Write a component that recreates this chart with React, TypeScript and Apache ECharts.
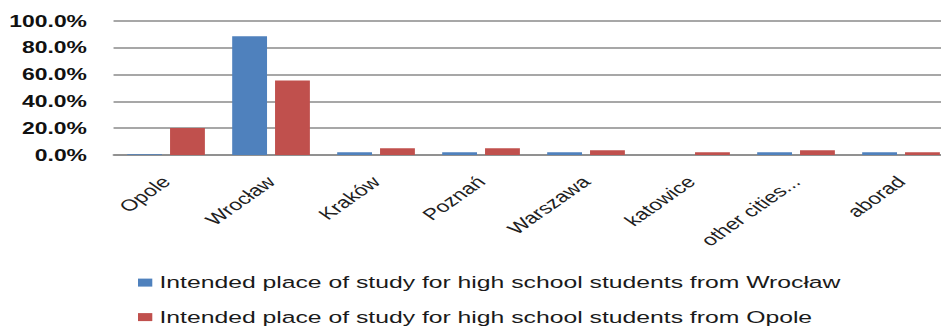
import React, { useEffect, useRef } from "react";
import * as echarts from "echarts";

// Intended place of study, share of respondents (%)
const categories = [
  "Opole",
  "Wrocław",
  "Kraków",
  "Poznań",
  "Warszawa",
  "katowice",
  "other cities...",
  "aborad",
];
const wroclawStudents = [0.5, 88.6, 2.0, 2.0, 2.0, 0, 2.0, 2.0];
const opoleStudents = [20.1, 55.6, 5.0, 5.0, 3.5, 2.0, 3.5, 2.0];
const seriesNames = [
  "Intended place of study for high school students from Wrocław",
  "Intended place of study for high school students from Opole",
];
const yTicks = { min: 0, max: 100, interval: 20 };

// The chart is laid out narrow and widened horizontally, which gives the
// wide lettering and shallow label slant of the original figure.
const STRETCH = 1.43;
const INNER_W = 672;
const H = 326;

export default function App() {
  const ref = useRef<HTMLDivElement>(null);

  useEffect(() => {
    if (!ref.current) return;
    const chart = echarts.init(ref.current, undefined, { renderer: "svg" });
    chart.setOption({
      animation: false,
      grid: {
        left: 79.4,
        right: 5.2,
        top: 21,
        bottom: H - 155,
        containLabel: false,
        outerBoundsMode: "none",
      },
      legend: {
        orient: "vertical",
        left: 96.5,
        top: 274.1,
        width: 560,
        height: 120,
        padding: 0,
        itemWidth: 10,
        itemHeight: 8,
        itemGap: 17.5,
        icon: "rect",
        data: seriesNames,
        textStyle: {
          fontFamily: "Liberation Sans",
          fontSize: 17.3,
          lineHeight: 17,
          color: "#1a1a1a",
        },
      },
      xAxis: {
        type: "category",
        data: categories,
        axisTick: { show: false },
        axisLine: { lineStyle: { color: "#8a8a8a", width: 1.5 } },
        axisLabel: {
          rotate: 45,
          interval: 0,
          margin: 24,
          fontFamily: "Liberation Sans",
          fontSize: 16,
          color: "#1f1f1f",
        },
      },
      yAxis: {
        type: "value",
        min: yTicks.min,
        max: yTicks.max,
        interval: yTicks.interval,
        axisLine: { show: false },
        axisTick: { show: false },
        splitLine: { lineStyle: { color: "#8a8a8a", width: 1.5 } },
        axisLabel: {
          margin: 18.6,
          fontFamily: "Liberation Sans",
          fontWeight: "bold",
          fontSize: 16,
          color: "#111111",
          formatter: (v: number) => v.toFixed(1) + "%",
        },
      },
      series: [
        {
          name: seriesNames[0],
          type: "bar",
          data: wroclawStudents,
          itemStyle: { color: "#4F81BD" },
          barGap: "23%",
          barCategoryGap: "26%",
        },
        {
          name: seriesNames[1],
          type: "bar",
          data: opoleStudents,
          itemStyle: { color: "#C0504D" },
          barGap: "23%",
          barCategoryGap: "26%",
        },
      ],
    });
    return () => chart.dispose();
  }, []);

  return (
    <div
      style={{
        position: "absolute",
        left: 0,
        top: 0,
        width: 941,
        height: H,
        overflow: "hidden",
        background: "#ffffff",
      }}
    >
      <div
        ref={ref}
        style={{
          width: INNER_W,
          height: H,
          transform: `scaleX(${STRETCH})`,
          transformOrigin: "0 0",
        }}
      />
    </div>
  );
}
